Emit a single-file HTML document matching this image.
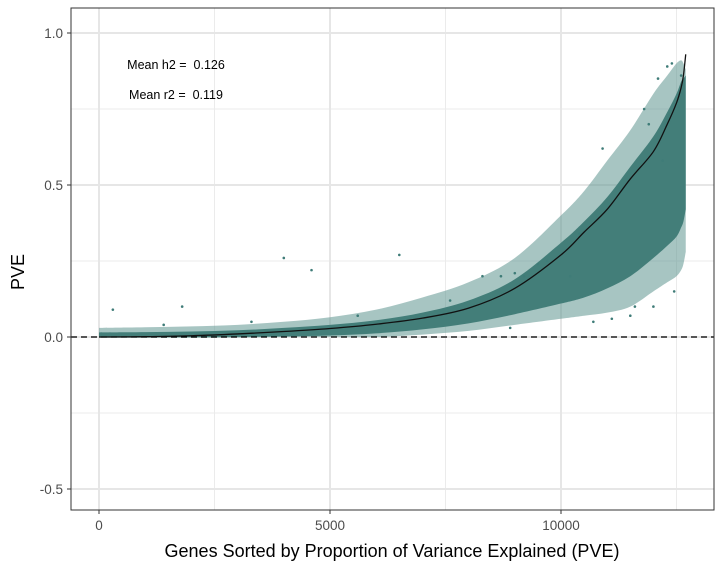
<!DOCTYPE html>
<html><head><meta charset="utf-8"><style>
body{margin:0;background:#fff;font-family:"Liberation Sans",sans-serif}
</style></head><body>
<svg id="chart" width="725" height="570" xmlns="http://www.w3.org/2000/svg" font-family="Liberation Sans, sans-serif">
<g id="grid"></g>
<g id="band"></g>
<g id="pts"></g>
<g id="curve"></g>
<rect x="71" y="8" width="643" height="502" fill="none" stroke="#333" stroke-width="1"/>
<g id="axes"></g>
<text x="176" y="69" font-size="12.5" text-anchor="middle">Mean h2 =&#160; 0.126</text>
<text x="176" y="99" font-size="12.5" text-anchor="middle">Mean r2 =&#160; 0.119</text>
<text x="392" y="557" font-size="18" text-anchor="middle">Genes Sorted by Proportion of Variance Explained (PVE)</text>
<text x="24" y="272" font-size="18" text-anchor="middle" transform="rotate(-90 24 272)">PVE</text>
</svg>
<script>
const genes=[0,1000,2000,3000,4000,5000,6000,7000,8000,9000,10000,10500,11000,11500,12000,12300,12500,12600,12650,12700];
const h2=[0,0.001,0.004,0.01,0.018,0.028,0.042,0.062,0.095,0.16,0.27,0.345,0.42,0.52,0.61,0.70,0.77,0.82,0.86,0.93];
const upperOuter=[0.03,0.032,0.035,0.04,0.05,0.065,0.09,0.13,0.18,0.26,0.4,0.48,0.58,0.68,0.8,0.86,0.9,0.91,0.9,0.88];
const lowerOuter=[-0.003,-0.003,-0.003,-0.002,0,0,0,0.008,0.02,0.04,0.06,0.07,0.08,0.1,0.15,0.18,0.2,0.22,0.24,0.28];
const upperInner=[0.015,0.016,0.018,0.022,0.03,0.04,0.055,0.08,0.12,0.19,0.31,0.38,0.46,0.56,0.66,0.74,0.8,0.84,0.85,0.86];
const lowerInner=[0,0,0,0,0.002,0.005,0.012,0.025,0.045,0.075,0.11,0.13,0.16,0.2,0.26,0.3,0.33,0.36,0.38,0.42];
const outX=[300,1800,4000,4600,6500,8300,8700,9000,9200,9700,10400,11300,11800,12100,12300,12400,11900,10900,12200,12600,9500,10200,11600,1400,3300,5600,7600,8900,10700,11100,11500,12000,12450];
const outY=[0.09,0.1,0.26,0.22,0.27,0.2,0.2,0.21,0.2,0.25,0.34,0.48,0.75,0.85,0.89,0.9,0.7,0.62,0.58,0.86,0.24,0.2,0.1,0.04,0.05,0.07,0.12,0.03,0.05,0.06,0.07,0.1,0.15];
const xTicks=[0,5000,10000];
const yTicks=[-0.5,0,0.5,1.0];
const yLabels=["-0.5","0.0","0.5","1.0"];
const X=g=>99+g*0.0462, Y=v=>337-v*304;
const NS="http://www.w3.org/2000/svg";
function mk(p,t,a){const e=document.createElementNS(NS,t);for(const k in a)e.setAttribute(k,a[k]);p.appendChild(e);return e;}
function smooth(xs,ys){let d='M'+xs[0]+','+ys[0];for(let i=0;i<xs.length-1;i++){const x0=xs[Math.max(0,i-1)],y0=ys[Math.max(0,i-1)],x1=xs[i],y1=ys[i],x2=xs[i+1],y2=ys[i+1],x3=xs[Math.min(xs.length-1,i+2)],y3=ys[Math.min(xs.length-1,i+2)];d+=' C'+(x1+(x2-x0)/6)+','+(y1+(y2-y0)/6)+' '+(x2-(x3-x1)/6)+','+(y2-(y3-y1)/6)+' '+x2+','+y2;}return d;}
const grid=document.getElementById('grid'),axes=document.getElementById('axes');
[-0.25,0.25,0.75].forEach(v=>{const l=mk(grid,'line',{x1:71,x2:714,y1:Y(v),y2:Y(v),stroke:'#ebebeb','stroke-width':1});

});
[2500,7500,12500].forEach(g=>{const l=mk(grid,'line',{x1:X(g),x2:X(g),y1:8,y2:510,stroke:'#ebebeb','stroke-width':1});

});
yTicks.forEach((v,i)=>{const l=mk(grid,'line',{x1:71,x2:714,y1:Y(v),y2:Y(v),stroke:'#e6e6e6','stroke-width':2});


mk(axes,'line',{x1:67,x2:71,y1:Y(v),y2:Y(v),stroke:'#333'});
const t=mk(axes,'text',{x:63,y:Y(v)+5,'font-size':13.5,fill:'#4d4d4d','text-anchor':'end'});t.textContent=yLabels[i];

});
xTicks.forEach(g=>{const l=mk(grid,'line',{x1:X(g),x2:X(g),y1:8,y2:510,stroke:'#e6e6e6','stroke-width':2});


mk(axes,'line',{x1:X(g),x2:X(g),y1:510,y2:514,stroke:'#333'});
const t=mk(axes,'text',{x:X(g),y:530,'font-size':13.5,fill:'#4d4d4d','text-anchor':'middle'});t.textContent=g;

});
const band=document.getElementById('band');
const gx=genes.map(X);
function bandPath(up,lo){const u=smooth(gx,up.map(Y));const rx=gx.slice().reverse(),ry=lo.map(Y).reverse();return u+' L'+rx[0]+','+ry[0]+smooth(rx,ry).replace(/^M[^ ]+/,'')+' Z';}
const bo=mk(band,'path',{d:bandPath(upperOuter,lowerOuter),fill:'#5e9590','fill-opacity':0.55,stroke:'none'});


const bi=mk(band,'path',{d:bandPath(upperInner,lowerInner),fill:'#437e79',stroke:'none'});


const pts=document.getElementById('pts');
outX.forEach((g,i)=>{const c=mk(pts,'circle',{cx:X(g),cy:Y(outY[i]),r:1.3,fill:'#3f7c78'});

});
const zl=mk(document.getElementById('curve'),'line',{x1:71,x2:714,y1:Y(0),y2:Y(0),stroke:'#000','stroke-dasharray':'6,4','stroke-width':1.2});


const cp=mk(document.getElementById('curve'),'path',{d:smooth(gx,h2.map(Y)),fill:'none',stroke:'#111','stroke-width':1.3});


</script>
</body></html>
